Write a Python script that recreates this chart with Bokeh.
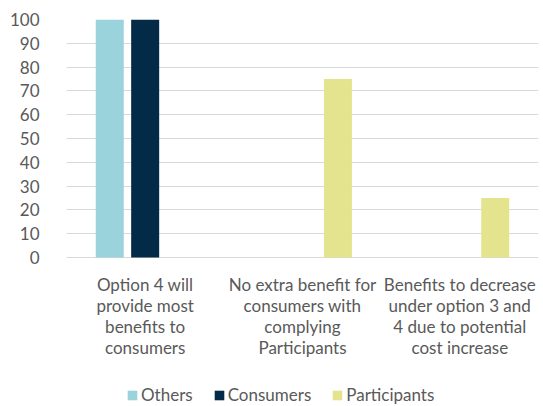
from bokeh.plotting import figure
from bokeh.models import ColumnDataSource, FactorRange, Range1d, Legend, LegendItem, FixedTicker
from bokeh.core.properties import value
from bokeh.transform import dodge
from bokeh.embed import file_html
from bokeh.resources import INLINE

categories = [
    "Option 4 will\nprovide most\nbenefits to\nconsumers",
    "No extra benefit for\nconsumers with\ncomplying\nParticipants",
    "Benefits to decrease\nunder option 3 and\n4 due to potential\ncost increase",
]
series_names = ["Others", "Consumers", "Participants"]
others = [100, 0, 0]
consumers = [100, 0, 0]
participants = [0, 75, 25]
y_ticks = [0, 10, 20, 30, 40, 50, 60, 70, 80, 90, 100]
baseline = [0, 0, 0]

colors = ["#9BD3DD", "#032B47", "#E3E48D"]
FONT = "Lato"
TXT = "#595959"

source = ColumnDataSource(data=dict(cat=categories, Others=others, Consumers=consumers,
                                    Participants=participants, base=baseline))

# frame extends below zero so that category labels and legend live inside it
p = figure(x_range=FactorRange(*categories, range_padding=0), y_range=Range1d(-62.6, 100),
           width=543, height=406, output_backend="svg", toolbar_location=None,
           min_border_left=66, min_border_right=5, min_border_top=19, min_border_bottom=0)
p.outline_line_color = None

offsets = [-0.225, 0.0, 0.225]
renderers = []
for name, off, col in zip(series_names, offsets, colors):
    r = p.vbar(x=dodge("cat", off, range=p.x_range), top=name, width=0.178,
               source=source, fill_color=col, line_color=None)
    renderers.append(r)

# category labels under the baseline
p.text(x="cat", y="base", text="cat", source=source, y_offset=16,
       text_align="center", text_baseline="top", text_font=value(FONT),
       text_font_size="17px", text_color=TXT, text_line_height=1.0)

p.xaxis.visible = False
p.xgrid.grid_line_color = None
p.ygrid.grid_line_color = "#D9D9D9"
p.ygrid.grid_line_width = 1

p.yaxis.ticker = FixedTicker(ticks=y_ticks)
p.yaxis.axis_line_color = None
p.yaxis.major_tick_line_color = None
p.yaxis.minor_tick_line_color = None
p.yaxis.major_label_standoff = 21
p.yaxis.major_label_text_font = FONT
p.yaxis.major_label_text_font_size = "17px"
p.yaxis.major_label_text_color = TXT

legend = Legend(items=[LegendItem(label=n, renderers=[r]) for n, r in zip(series_names, renderers)],
                orientation="horizontal", location=(60, 1),
                glyph_width=12, glyph_height=12, label_standoff=3, spacing=20,
                padding=0, margin=0, border_line_color=None, background_fill_alpha=0,
                label_text_font=FONT, label_text_font_size="17px", label_text_color=TXT,
                label_height=17)
p.add_layout(legend, "center")

open("out.html", "w").write(file_html(p, INLINE))
